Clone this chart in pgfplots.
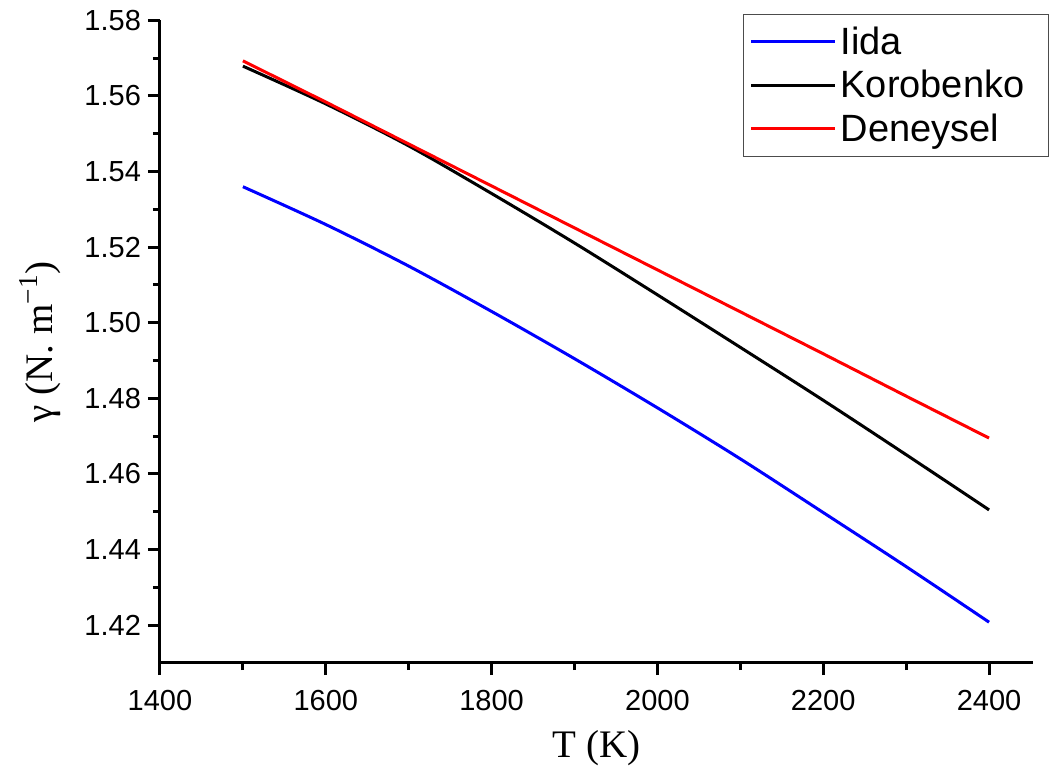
\documentclass[border=0pt]{standalone}
\usepackage{fontspec}
\setmainfont{Liberation Sans}
\newfontfamily\timesfont{Liberation Serif}
\usepackage{pgfplots}
\pgfplotsset{compat=1.18}
\begin{document}
\begin{tikzpicture}
\useasboundingbox (-80pt,-54pt) rectangle (445pt,331.5pt);
\begin{axis}[
  scale only axis,
  width=436.5pt, height=321.3pt,
  xmin=1400, xmax=2453,
  ymin=1.41, ymax=1.58,
  axis lines*=left,
  axis line style={line width=1.5pt},
  xtick={1400,1600,...,2400},
  ytick={1.42,1.44,...,1.581},
  minor x tick num=1,
  minor y tick num=1,
  tick align=outside,
  major tick length=6pt,
  minor tick length=3.5pt,
  every tick/.style={black, line width=1.5pt},
  tick label style={font=\fontsize{14.5}{16}\selectfont},
  /pgf/number format/assume math mode=true,
  x tick label style={/pgf/number format/1000 sep={}, yshift=-4pt},
  y tick label style={/pgf/number format/.cd, fixed, fixed zerofill, precision=2},
  xlabel={\timesfont T (K)},
  ylabel={\timesfont γ (N. m\textsuperscript{−1})},
  label style={font=\fontsize{19.5}{22}\selectfont},
  xlabel style={yshift=-3pt},
  ylabel style={yshift=5pt},
  legend style={at={(0.6678,1.01)}, anchor=north west, draw=black!70, line width=0.6pt,
    font=\fontsize{19}{22}\selectfont, row sep=2.5pt, inner xsep=3pt, inner ysep=4pt},
  legend cell align=left,
  legend image code/.code={\draw[#1, line width=1.5pt] (0pt,0pt) -- (42pt,0pt);},
]
\addplot[blue, line width=1.5pt, smooth] coordinates {
(1500,1.5360) (1600,1.5260) (1700,1.5150) (1800,1.5030) (1900,1.4905)
(2000,1.4775) (2100,1.4640) (2200,1.4498) (2300,1.4355) (2400,1.4208)};
\addlegendentry{Iida}
\addplot[black, line width=1.5pt, smooth] coordinates {
(1500,1.5679) (1600,1.5579) (1700,1.5468) (1800,1.5342) (1900,1.5211)
(2000,1.5074) (2100,1.4935) (2200,1.4795) (2300,1.4651) (2400,1.4505)};
\addlegendentry{Korobenko\hspace*{7pt}}
\addplot[red, line width=1.5pt] coordinates {
(1500,1.5693) (1600,1.5584) (1700,1.5473) (1800,1.5362) (1900,1.5251)
(2000,1.5140) (2100,1.5029) (2200,1.4918) (2300,1.4806) (2400,1.4695)};
\addlegendentry{Deneysel}
\end{axis}
\end{tikzpicture}
\end{document}
